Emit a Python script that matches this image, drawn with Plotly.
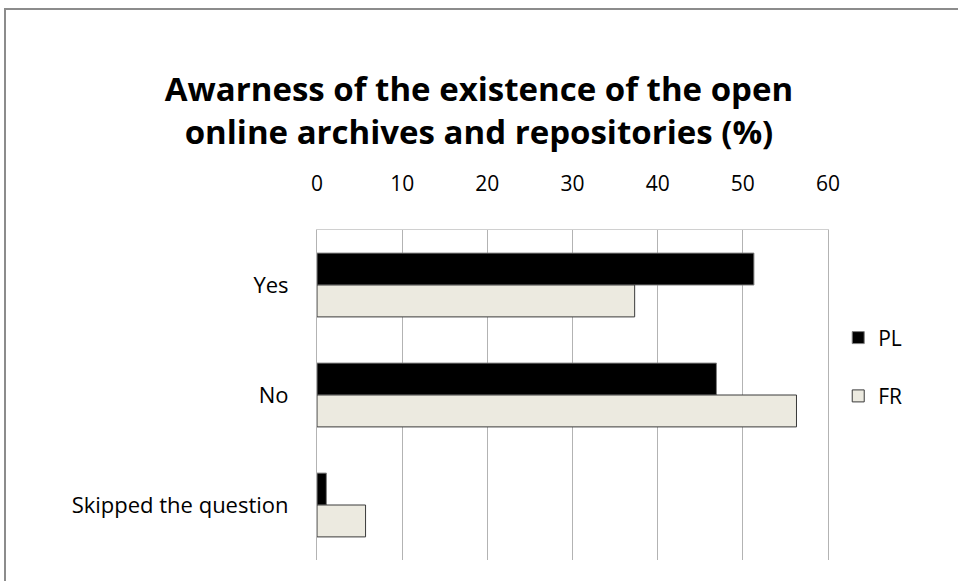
import plotly.graph_objects as go

# Data
categories = ["Yes", "No", "Skipped the question"]
pl_values = [51.3, 46.9, 1.1]
fr_values = [37.3, 56.3, 5.7]
x_ticks = [0, 10, 20, 30, 40, 50, 60]

fig = go.Figure()

fig.add_trace(go.Bar(
    name="PL",
    legendgroup="pl",
    y=categories,
    x=pl_values,
    orientation="h",
    marker=dict(color="#000000", line=dict(color="#7f7f7f", width=1)),
))
fig.add_trace(go.Bar(
    name="FR",
    legendgroup="fr",
    y=categories,
    x=fr_values,
    orientation="h",
    marker=dict(color="#ECEAE0", line=dict(color="#3a3a3a", width=1)),
))

font_family = "Open Sans"

fig.update_layout(
    width=958,
    height=581,
    barmode="group",
    bargap=0.42,
    bargroupgap=0,
    plot_bgcolor="white",
    paper_bgcolor="white",
    margin=dict(l=317, r=130, t=230, b=21),
    font=dict(family=font_family, size=21, color="#000000"),
    title=dict(
        text="<b>Awarness of the existence of the open<br>online archives and repositories (%)</b>",
        x=0.5,
        xref="container",
        xanchor="center",
        y=1 - 101 / 581,
        yref="container",
        yanchor="middle",
        font=dict(family=font_family, size=33, color="#000000"),
    ),
    legend=dict(
        x=1.02,
        y=0.585,
        xanchor="left",
        yanchor="middle",
        font=dict(size=21),
        traceorder="grouped",
        tracegroupgap=28,
    ),
    xaxis=dict(
        side="top",
        range=[0, 60],
        tickvals=x_ticks,
        showgrid=True,
        gridcolor="#b3b3b3",
        gridwidth=1,
        zeroline=False,
        showline=True,
        linecolor="#d0d0d0",
        mirror=False,
        ticks="",
        ticklabelstandoff=30,
        tickfont=dict(size=21),
    ),
    yaxis=dict(
        autorange="reversed",
        showgrid=False,
        showline=True,
        linecolor="#b3b3b3",
        linewidth=1,
        mirror=True,
        ticks="",
        ticklabelstandoff=23,
        tickfont=dict(size=22),
    ),
    shapes=[
        dict(
            type="rect",
            xref="paper",
            yref="paper",
            x0=(5 - 317) / 511,
            x1=(1000 - 317) / 511,
            y0=(560 - 600) / 330,
            y1=(560 - 9) / 330,
            line=dict(color="#8c8c8c", width=2),
            layer="below",
        )
    ],
)

fig.write_html(
    "out.html",
    config={"displayModeBar": False},
    post_script="document.body.style.margin='0';",
)
